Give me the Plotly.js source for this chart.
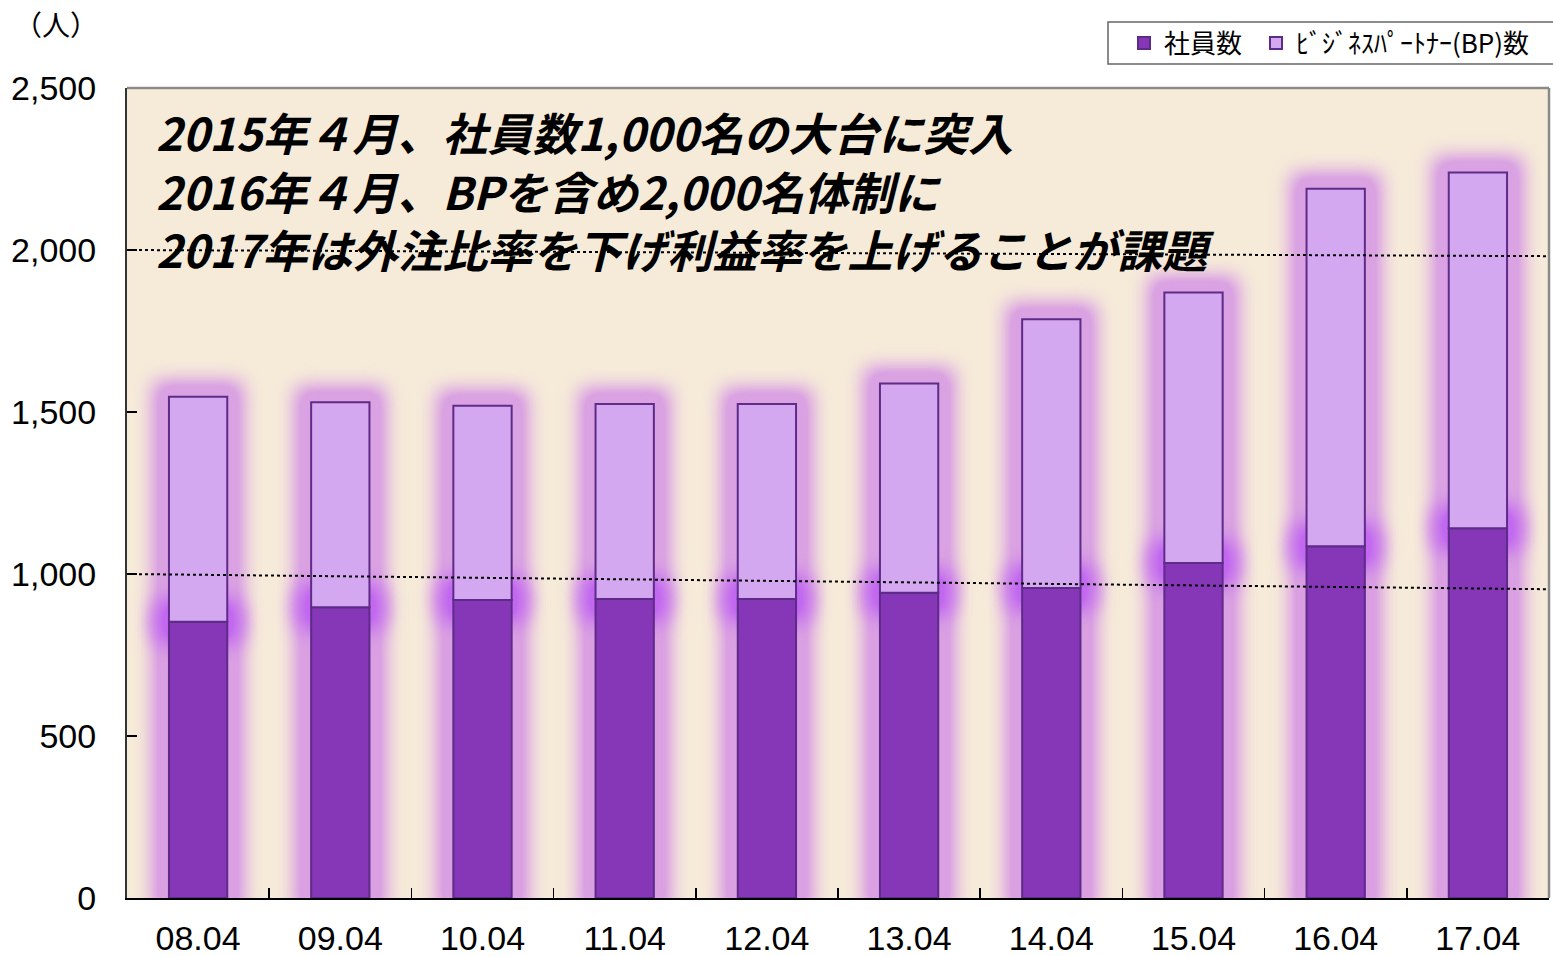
<!DOCTYPE html>
<html><head><meta charset="utf-8">
<script src="https://cdn.plot.ly/plotly-3.0.1.min.js"></script>
<style>
html,body{margin:0;padding:0;background:#fff;}
#chart{width:1553px;height:956px;}
</style></head>
<body>
<svg width="0" height="0" style="position:absolute">
  <defs>
    <filter id="glowA" filterUnits="userSpaceOnUse" x="-200" y="-200" width="2000" height="1400" color-interpolation-filters="sRGB">
      <feMorphology in="SourceGraphic" operator="dilate" radius="15" result="d"/>
      <feGaussianBlur in="d" stdDeviation="10" result="b"/>
      <feComponentTransfer in="b"><feFuncA type="linear" slope="1.5"/></feComponentTransfer>
    </filter>
    <filter id="glowB" filterUnits="userSpaceOnUse" x="-200" y="-200" width="2000" height="1400" color-interpolation-filters="sRGB">
      <feMorphology in="SourceGraphic" operator="dilate" radius="10" result="d"/>
      <feGaussianBlur in="d" stdDeviation="10" result="b"/>
      <feComponentTransfer in="b"><feFuncA type="linear" slope="1.5"/></feComponentTransfer>
    </filter>
  </defs>
</svg>
<div id="chart"></div>
<script>
const categories = ['08.04','09.04','10.04','11.04','12.04','13.04','14.04','15.04','16.04','17.04'];
const employees  = [853, 897, 920, 923, 923, 942, 957, 1034, 1086, 1141];
const partners   = [694, 633, 599, 602, 602, 646, 829, 835, 1103, 1098];
const seriesNames = ['社員数', 'ﾋﾞｼﾞﾈｽﾊﾟｰﾄﾅｰ(BP)数'];
const yTicks = [0, 500, 1000, 1500, 2000, 2500];
const noteLines = [
  '2015年４月、社員数1,000名の大台に突入',
  '2016年４月、BPを含め2,000名体制に',
  '2017年は外注比率を下げ利益率を上げることが課題'
];
const unitLabel = '（人）';

const junctionHalf = 35;
const empColor = '#8537b8';
const bpColor = '#d4a8f0';
const edge = '#5e2b88';

const traces = [
  {type:'bar', x:categories, y:employees, base:employees.map(()=>0),
   marker:{color:'rgb(218,160,226)'}, showlegend:false, hoverinfo:'skip'},
  {type:'bar', x:categories, y:partners, base:employees,
   marker:{color:'rgb(218,162,226)'}, showlegend:false, hoverinfo:'skip'},
  {type:'bar', x:categories, y:employees.map(()=>2*junctionHalf), base:employees.map(v=>v-junctionHalf),
   marker:{color:'rgb(194,104,240)'}, showlegend:false, hoverinfo:'skip'},
  {type:'bar', name:seriesNames[0], x:categories, y:employees, base:employees.map(()=>0),
   marker:{color:empColor, line:{color:edge, width:2}}, legend:'legend'},
  {type:'bar', name:seriesNames[1], x:categories, y:partners, base:employees,
   marker:{color:bpColor, line:{color:edge, width:2}}, legend:'legend2'}
];

const plotTop = 88, plotBottom = 898;
function py(p){ return (plotBottom - p)/(plotBottom - plotTop); }
function px(p){ return (p - 127)/(1549 - 127); }

const noteFont = {family:'"Noto Sans CJK JP", sans-serif', size:45, color:'#000', weight:'bold', style:'italic'};
const annotations = [{
  text:noteLines.join('<br>'), xref:'paper', yref:'paper', x:px(154), y:py(190),
  xanchor:'left', yanchor:'middle', align:'left', showarrow:false, font:noteFont
}];
annotations.push({text:unitLabel, xref:'paper', yref:'paper', x:px(56), y:py(24),
  xanchor:'center', yanchor:'middle', showarrow:false,
  font:{family:'"Noto Sans CJK JP", sans-serif', size:28, color:'#000'}});

const legendFont = {family:'"Noto Sans CJK JP", sans-serif', size:26, color:'#000'};
const layout = {
  width:1553, height:956,
  margin:{l:127, r:4, t:88, b:58},
  paper_bgcolor:'#ffffff', plot_bgcolor:'#f6ebd9',
  barmode:'overlay', bargap:0.59,
  font:{family:'"Liberation Sans", Arial, sans-serif', color:'#000'},
  xaxis:{
    type:'category', tickson:'boundaries', ticks:'inside', ticklen:10, tickwidth:1.5, tickcolor:'#000',
    showline:true, linecolor:'#000', linewidth:2, showgrid:false, zeroline:false,
    tickfont:{size:34, color:'#000'}, ticklabelstandoff:9, fixedrange:true
  },
  yaxis:{
    range:[0,2500], tickvals:yTicks, tickformat:',d', ticks:'inside', ticklen:10, tickwidth:1.5, tickcolor:'#000',
    showline:true, linecolor:'#333', linewidth:2, showgrid:false, zeroline:false,
    tickfont:{size:34, color:'#000'}, ticklabelstandoff:22, fixedrange:true
  },
  legend:{orientation:'h', x:px(1124), xanchor:'left', y:py(43), yanchor:'middle',
    bgcolor:'rgba(0,0,0,0)', borderwidth:0, font:legendFont, itemwidth:30},
  legend2:{orientation:'h', x:px(1256), xanchor:'left', y:py(43), yanchor:'middle',
    bgcolor:'rgba(0,0,0,0)', borderwidth:0, font:legendFont, itemwidth:30},
  shapes:[
    {type:'line', xref:'paper', yref:'y', x0:0, x1:1, y0:1000, y1:953, layer:'above',
     line:{color:'#000', width:2, dash:'dot'}},
    {type:'line', xref:'paper', yref:'y', x0:0, x1:1, y0:2000, y1:1981, layer:'above',
     line:{color:'#000', width:2, dash:'dot'}},
    {type:'line', xref:'paper', yref:'paper', x0:0, x1:1, y0:1, y1:1, layer:'above',
     line:{color:'#8a8a8a', width:2.5}},
    {type:'line', xref:'paper', yref:'paper', x0:1, x1:1, y0:0, y1:1, layer:'above',
     line:{color:'#8a8a8a', width:2.5}},
    {type:'rect', xref:'paper', yref:'paper', x0:px(1108), x1:px(1560), y0:py(64), y1:py(22),
     line:{color:'#666', width:1.5}, fillcolor:'#ffffff', layer:'below'}
  ],
  annotations:annotations,
  showlegend:true
};

function applyGlow(gd){
  const groups = gd.querySelectorAll('.barlayer .trace');
  groups.forEach((g,i)=>{
    const f = i < 2 ? 'url(#glowA)' : (i === 2 ? 'url(#glowB)' : null);
    if(f){
      g.setAttribute('filter', f);
      g.style.filter = f;
    }
  });
}
Plotly.newPlot('chart', traces, layout, {displayModeBar:false, staticPlot:true}).then(gd=>{
  applyGlow(gd);
  gd.on('plotly_afterplot', ()=>applyGlow(gd));
});
</script>
</body></html>
